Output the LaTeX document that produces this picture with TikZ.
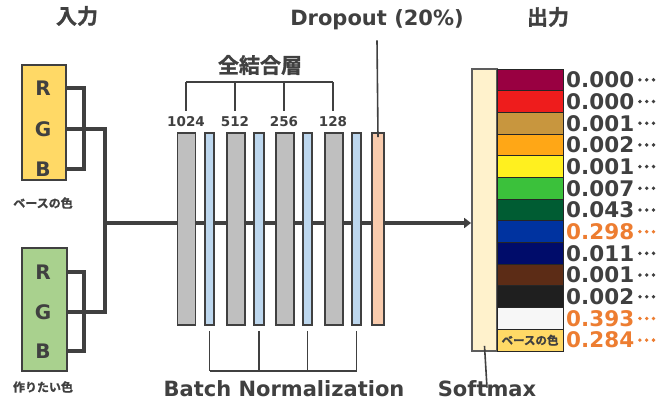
\documentclass[tikz,border=0pt]{standalone}
\usepackage{fontspec}
\setmainfont{DejaVu Sans}
\newfontfamily\jpfont{Noto Sans CJK JP Bold}[FakeBold=1.2]
\usetikzlibrary{arrows.meta}

\definecolor{ink}{HTML}{404040}
\definecolor{hot}{HTML}{ED7D31}
\definecolor{baseY}{HTML}{FFD966}
\definecolor{wantG}{HTML}{A9D18E}
\definecolor{fcG}{HTML}{BFBFBF}
\definecolor{bnB}{HTML}{BDD7EE}
\definecolor{doO}{HTML}{F8CBAD}
\definecolor{smY}{HTML}{FFF2CC}

\tikzset{
  title/.style={text=ink, font=\fontsize{21}{21}\selectfont\bfseries, inner sep=0pt},
  jtitle/.style={text=ink, font=\jpfont\fontsize{21}{21}\selectfont, inner sep=0pt},
  jsmall/.style={text=ink, font=\jpfont\fontsize{12}{12}\selectfont, inner sep=0pt},
  rgb/.style={text=ink, font=\fontsize{20}{20}\selectfont\bfseries, inner sep=0pt},
  inbox/.style={draw=ink, line width=2pt, inner sep=0pt},
  layer/.style={draw=ink, line width=1.6pt, inner sep=0pt, minimum height=192pt},
  fc/.style={layer, fill=fcG, minimum width=18pt},
  bn/.style={layer, fill=bnB, minimum width=9.5pt},
  units/.style={text=ink, font=\fontsize{13.5}{14}\selectfont\bfseries, inner sep=0pt},
  wire/.style={draw=ink, line width=3.6pt},
  thin/.style={draw=ink, line width=1.6pt},
  cell/.style={draw=black!85, line width=0.9pt, inner sep=0pt, minimum width=66pt, minimum height=21.7pt},
  val/.style={text=ink, font=\fontsize{21.5}{21}\selectfont\bfseries, inner sep=0pt, anchor=west},
}

\begin{document}
\begin{tikzpicture}[x=1pt, y=-1pt]
\useasboundingbox (0,0) rectangle (671,403);

% headings
\node[jtitle] (tin) at (77,16) {入力};
\node[jtitle] (tout) at (548,17) {出力};
\node[jtitle] (tfc) at (260,65) {全結合層};
\node[title] (tdo) at (377,20) {Dropout (20\%)};
\node[title] (tbn) at (284,389) {Batch Normalization};
\node[title] (tsm) at (487,389) {Softmax};

% input colour boxes
\node[inbox, fill=baseY, minimum width=44pt, minimum height=115pt] (base) at (44,122.5) {};
\node[inbox, fill=wantG, minimum width=45pt, minimum height=123pt] (want) at (44.5,309.5) {};
\node[rgb] (bR) at (43,88) {R};
\node[rgb] (bG) at (43,129) {G};
\node[rgb] (bB) at (43,169) {B};
\node[rgb] (wR) at (43,272) {R};
\node[rgb] (wG) at (43,312) {G};
\node[rgb] (wB) at (43,351) {B};
\node[jsmall] (lbase) at (43,203) {ベースの色};
\node[jsmall] (lwant) at (43,387) {作りたい色};

% input wiring
\coordinate (joinB) at (84,0);
\coordinate (join) at (105,223);
\draw[wire] (bR -| base.east) -- (bR -| joinB) -- (bB -| joinB) -- (bB -| base.east);
\draw[wire] (wR -| want.east) -- (wR -| joinB) -- (wB -| joinB) -- (wB -| want.east);
\draw[wire] (bG -| base.east) -- (bG -| join) -- (wG -| join) -- (wG -| want.east);

% softmax column
\node[draw=ink!85, line width=1.8pt, fill=smY, inner sep=0pt, minimum width=25pt, minimum height=282pt] (sm) at (484.5,210) {};

% main data path
\draw[wire, -{Triangle[length=7pt, width=10pt]}] (join) -- (join -| sm.west);

% network layers
\node[fc] (f1) at (186.5,229) {};
\node[bn] (b1) at (209.5,229) {};
\node[fc] (f2) at (236,229) {};
\node[bn] (b2) at (259,229) {};
\node[fc] (f3) at (285,229) {};
\node[bn] (b3) at (307.5,229) {};
\node[fc] (f4) at (334,229) {};
\node[bn] (b4) at (356.5,229) {};
\node[layer, fill=doO, minimum width=12pt] (dout) at (378,229) {};

% unit counts
\node[units] (u1) at (186,122) {1024};
\node[units] (u2) at (235,122) {512};
\node[units] (u3) at (284,122) {256};
\node[units] (u4) at (333,122) {128};

% dense-layer bracket
\coordinate (fcTop) at (0,82);
\foreach \u in {u1,u2,u3,u4}
  \draw[thin] (\u.north) ++(0,-6) -- (\u |- fcTop);
\draw[thin] (u1 |- fcTop) -- (u4 |- fcTop);

% batch-norm bracket
\coordinate (bnBot) at (0,371);
\foreach \b in {b1,b2,b3,b4}
  \draw[thin] (\b.south) ++(0,5) -- (\b |- bnBot);
\draw[thin] (b1 |- bnBot) -- (b4 |- bnBot);

% dropout / softmax pointers
\draw[thin] (tdo.south) ++(0,10) -- ([yshift=-5pt]dout.north);
\draw[thin] ([yshift=6pt]sm.south) -- ([yshift=-7pt]tsm.north);

% output classes and probabilities (value followed by a centred ellipsis)
\foreach \i/\c/\v/\t in {
  1/990041/0.000/ink, 2/EE1C1C/0.000/ink, 3/C8963E/0.001/ink,
  4/FFA716/0.002/ink, 5/FFF01F/0.001/ink, 6/3BC13B/0.007/ink,
  7/005C33/0.043/ink, 8/0033A0/0.298/hot, 9/000C6A/0.011/ink,
  10/5C2C16/0.001/ink, 11/1F1F1F/0.002/ink, 12/F7F7F7/0.393/hot,
  13/FFD966/0.284/hot}{
  \definecolor{cellc}{HTML}{\c}
  \node[cell, fill=cellc] (c\i) at (530,{69+21.69*(\i-0.5)}) {};
  \node[val, text=\t] (v\i) at (566,{69+21.69*(\i-0.5)}) {\v};
  \foreach \k in {0,1,2}
    \fill[\t] (v\i.east) ++({5.5+6.8*\k},0) circle (1.9);
}
\node[jsmall, font=\jpfont\fontsize{11.5}{11.5}\selectfont] (lcell) at (c13) {ベースの色};
\end{tikzpicture}
\end{document}
